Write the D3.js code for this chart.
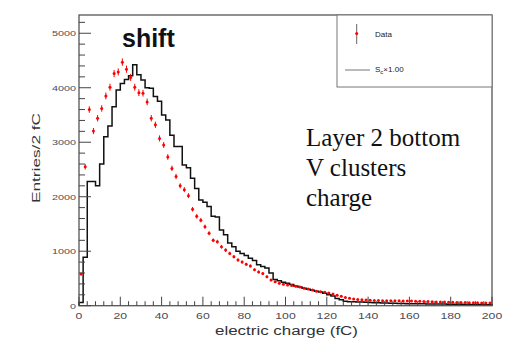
<!DOCTYPE html>
<html>
<head>
<meta charset="utf-8">
<script src="https://cdn.jsdelivr.net/npm/d3@7/dist/d3.min.js"></script>
<style>
  html, body { margin: 0; padding: 0; background: #fff; }
  svg { display: block; }
</style>
</head>
<body>
<svg id="chart" width="512" height="346"></svg>
<script>
// ---- data (2 fC bins from 0 to 200 fC) ----
const binWidth = 2;
const xTicks = [0, 20, 40, 60, 80, 100, 120, 140, 160, 180, 200];
const yTicks = [0, 1000, 2000, 3000, 4000, 5000];

// simulation S_c x 1.00 (black step histogram)
const mcCounts = [
  60, 890, 2280, 2280, 2200, 2600, 3100, 3300, 3650, 3960,
  4080, 4150, 4220, 4420, 4240, 4140, 4000, 3990, 3840, 3750,
  3500, 3410, 3130, 2920, 2920, 2580, 2530, 2340, 2150, 1940,
  1900, 1820, 1640, 1630, 1390, 1300, 1150, 1080, 1000, 960,
  920, 870, 830, 750, 720, 690, 600, 480, 460, 430,
  410, 390, 360, 345, 320, 300, 285, 265, 250, 230,
  200, 180, 130, 110, 80, 73, 72, 70, 66, 62,
  58, 55, 52, 50, 48, 46, 44, 42, 40, 38,
  37, 36, 35, 34, 33, 32, 31, 30, 29, 28,
  27, 26, 25, 24, 23, 22, 21, 20, 19, 18
];

// data (red points)
const dataCounts = [
  580, 2550, 3600, 3205, 3440, 3620, 3850, 4010, 4260, 4290,
  4470, 4340, 4190, 4010, 3910, 3900, 3740, 3440, 3320, 3070,
  2950, 2730, 2520, 2370, 2200, 2130, 2020, 1770, 1640, 1570,
  1450, 1330, 1200, 1175, 1080, 1020, 960, 900, 840, 800,
  760, 730, 660, 620, 590, 530, 470, 440, 410, 395,
  380, 370, 355, 345, 320, 305, 290, 265, 255, 245,
  235, 215, 190, 175, 150, 136, 125, 115, 108, 104,
  100, 97, 95, 93, 92, 92, 90, 89, 88, 86,
  84, 82, 80, 78, 75, 72, 70, 68, 66, 65,
  62, 60, 58, 57, 55, 54, 52, 50, 50, 48
];

const titleText = "shift";
const noteLines = ["Layer 2 bottom", "V clusters", "charge"];
const xTitle = "electric charge (fC)";
const yTitle = "Entries/2 fC";

// ---- layout ----
const L = 79, R = 492, T = 15, B = 305.7;
const svg = d3.select("#chart");
svg.append("rect").attr("width", 512).attr("height", 346).attr("fill", "#fff");

const x = d3.scaleLinear().domain([0, 200]).range([L, R]);
const y = d3.scaleLinear().domain([0, 5335]).range([B, T]);

// ---- MC step histogram ----
const stepPts = [[0, 0]];
mcCounts.forEach((c, i) => { stepPts.push([i * binWidth, c]); stepPts.push([(i + 1) * binWidth, c]); });
stepPts.push([200, 0]);
svg.append("path")
  .attr("d", d3.line().x(d => x(d[0])).y(d => y(d[1]))(stepPts))
  .attr("fill", "none").attr("stroke", "#111").attr("stroke-width", 1.5);

// ---- data points with error bars ----
const pts = svg.append("g");
dataCounts.forEach((c, i) => {
  const cx = x(i * binWidth + binWidth / 2);
  const e = Math.sqrt(c);
  pts.append("line").attr("x1", cx).attr("x2", cx)
    .attr("y1", y(c - e)).attr("y2", y(c + e))
    .attr("stroke", "#f00").attr("stroke-width", 1);
  pts.append("circle").attr("cx", cx).attr("cy", y(c)).attr("r", 1.5).attr("fill", "#f00");
});

// ---- frame ----
svg.append("rect").attr("x", L).attr("y", T).attr("width", R - L).attr("height", B - T)
  .attr("fill", "none").attr("stroke", "#555").attr("stroke-width", 1.3);

// ---- axes ticks ----
const ax = svg.append("g").attr("stroke", "#444").attr("stroke-width", 1);
// x major & minor ticks (pointing up)
d3.range(0, 201, 4).forEach(v => {
  const major = v % 20 === 0;
  ax.append("line").attr("x1", x(v)).attr("x2", x(v))
    .attr("y1", B).attr("y2", B - (major ? 9 : 4.5));
});
// y major & minor ticks (pointing right)
d3.range(0, 5335, 200).forEach(v => {
  const major = v % 1000 === 0;
  ax.append("line").attr("x1", L).attr("x2", L + (major ? 12 : 6))
    .attr("y1", y(v)).attr("y2", y(v));
});

// tick labels
svg.append("g").selectAll("text").data(xTicks).join("text")
  .attr("x", d => x(d)).attr("y", 318.5)
  .attr("text-anchor", "middle")
  .attr("font-family", "Liberation Sans, Arial, sans-serif")
  .attr("font-size", 9).attr("fill", "#4a4a55")
  .attr("textLength", d => String(d).length * 6.8)
  .attr("lengthAdjust", "spacingAndGlyphs")
  .text(d => d);

svg.append("g").selectAll("text").data(yTicks).join("text")
  .attr("x", 76).attr("y", d => y(d) + 3)
  .attr("text-anchor", "end")
  .attr("font-family", "Liberation Sans, Arial, sans-serif")
  .attr("font-size", 8).attr("fill", "#4a4a55")
  .attr("textLength", d => String(d).length * 6)
  .attr("lengthAdjust", "spacingAndGlyphs")
  .text(d => d);

// axis titles
svg.append("text").attr("x", 215).attr("y", 335)
  .attr("font-family", "Liberation Sans, Arial, sans-serif")
  .attr("font-size", 12).attr("fill", "#333")
  .attr("textLength", 143).attr("lengthAdjust", "spacingAndGlyphs")
  .text(xTitle);

svg.append("text").attr("transform", "translate(40,203) rotate(-90)")
  .attr("font-family", "Liberation Sans, Arial, sans-serif")
  .attr("font-size", 11).attr("fill", "#333")
  .attr("textLength", 90).attr("lengthAdjust", "spacingAndGlyphs")
  .text(yTitle);

// title "shift"
svg.append("text").attr("x", 122).attr("y", 47)
  .attr("font-family", "Liberation Sans, Arial, sans-serif")
  .attr("font-weight", "bold").attr("font-size", 25).attr("fill", "#111")
  .text(titleText);

// note lines
svg.append("g").selectAll("text").data(noteLines).join("text")
  .attr("x", 306).attr("y", (d, i) => 146 + i * 30)
  .attr("font-family", "Liberation Serif, Times New Roman, serif")
  .attr("font-size", 25).attr("fill", "#111")
  .text(d => d);

// ---- legend ----
const lg = svg.append("g");
lg.append("rect").attr("x", 337).attr("y", T).attr("width", R - 337).attr("height", 87 - T)
  .attr("fill", "#fff").attr("stroke", "#777").attr("stroke-width", 1);
lg.append("line").attr("x1", 356.7).attr("x2", 356.7).attr("y1", 24).attr("y2", 44)
  .attr("stroke", "#666").attr("stroke-width", 1);
lg.append("circle").attr("cx", 356.7).attr("cy", 33.5).attr("r", 1.5).attr("fill", "#f00");
lg.append("text").attr("x", 375).attr("y", 36.5)
  .attr("font-family", "Liberation Sans, Arial, sans-serif")
  .attr("font-size", 8).attr("fill", "#222").text("Data");
lg.append("line").attr("x1", 345).attr("x2", 370).attr("y1", 70).attr("y2", 70)
  .attr("stroke", "#777").attr("stroke-width", 1);
const st = lg.append("text").attr("x", 375).attr("y", 72)
  .attr("font-family", "Liberation Sans, Arial, sans-serif")
  .attr("font-size", 8).attr("fill", "#222");
st.append("tspan").text("S");
st.append("tspan").attr("font-size", 6).attr("dy", 2).text("c");
st.append("tspan").attr("dy", -2).text("×1.00");
</script>
</body>
</html>
